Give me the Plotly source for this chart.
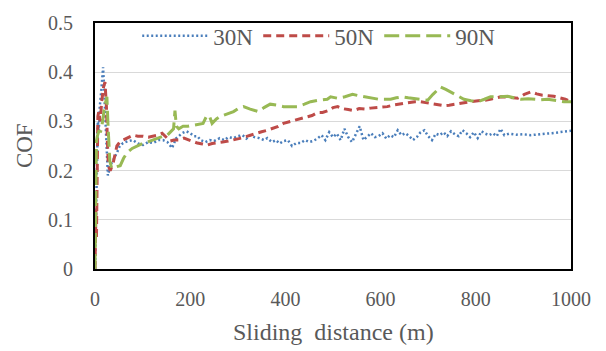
import plotly.graph_objects as go

# ---- data ----
x_30 = [0, 2, 4, 6, 8, 10, 13, 15, 17, 19, 21, 23, 25, 27, 32, 38, 46, 52, 59, 70, 80, 90, 101, 112, 122, 133, 143, 152, 162, 170, 183, 192, 200, 208, 215, 222, 232, 241, 250, 262, 272, 280, 291, 300, 310, 318, 326, 335, 345, 355, 362, 372, 380, 388, 396, 405, 414, 423, 432, 441, 450, 458, 467, 476, 484, 492, 500, 508, 516, 524, 532, 540, 548, 556, 564, 572, 580, 588, 596, 604, 612, 620, 628, 636, 644, 652, 660, 668, 676, 684, 692, 700, 708, 716, 724, 732, 740, 748, 756, 764, 772, 780, 788, 796, 804, 812, 820, 828, 836, 844, 852, 860, 870, 885, 900, 915, 930, 945, 960, 975, 990, 1000]
y_30 = [0.0, 0.10, 0.22, 0.30, 0.28, 0.33, 0.36, 0.39, 0.41, 0.37, 0.32, 0.27, 0.22, 0.19, 0.21, 0.22, 0.236, 0.25, 0.256, 0.26, 0.262, 0.255, 0.252, 0.258, 0.256, 0.262, 0.262, 0.258, 0.246, 0.265, 0.276, 0.28, 0.276, 0.27, 0.27, 0.262, 0.258, 0.262, 0.26, 0.266, 0.262, 0.268, 0.266, 0.27, 0.272, 0.265, 0.272, 0.268, 0.266, 0.262, 0.266, 0.258, 0.262, 0.255, 0.26, 0.262, 0.25, 0.256, 0.256, 0.262, 0.258, 0.26, 0.265, 0.272, 0.262, 0.278, 0.268, 0.275, 0.262, 0.285, 0.268, 0.258, 0.275, 0.29, 0.262, 0.27, 0.276, 0.268, 0.27, 0.276, 0.265, 0.272, 0.268, 0.282, 0.272, 0.276, 0.27, 0.262, 0.268, 0.278, 0.282, 0.27, 0.262, 0.275, 0.272, 0.278, 0.27, 0.28, 0.274, 0.27, 0.282, 0.276, 0.268, 0.278, 0.266, 0.28, 0.275, 0.272, 0.276, 0.27, 0.285, 0.272, 0.275, 0.273, 0.274, 0.272, 0.274, 0.275, 0.276, 0.278, 0.28, 0.281]

x_50 = [0, 2, 3, 4, 6, 8, 11, 14, 18, 21, 24, 26, 28, 32, 38, 46, 52, 59, 70, 80, 90, 101, 112, 122, 131, 141, 150, 158, 166, 175, 187, 198, 206, 215, 226, 236, 246, 257, 268, 280, 291, 302, 314, 326, 338, 350, 362, 374, 385, 396, 408, 420, 432, 444, 456, 467, 478, 490, 500, 510, 520, 532, 543, 555, 567, 579, 590, 602, 614, 626, 637, 648, 660, 672, 684, 696, 708, 720, 732, 744, 756, 770, 789, 805, 820, 835, 853, 870, 888, 902, 916, 928, 940, 952, 964, 976, 988, 1000]
y_50 = [0.0, 0.12, 0.06, 0.22, 0.31, 0.32, 0.30, 0.34, 0.37, 0.38, 0.33, 0.26, 0.21, 0.20, 0.215, 0.25, 0.258, 0.262, 0.268, 0.272, 0.27, 0.27, 0.268, 0.27, 0.272, 0.276, 0.268, 0.26, 0.262, 0.262, 0.266, 0.262, 0.258, 0.256, 0.254, 0.252, 0.255, 0.256, 0.258, 0.26, 0.262, 0.265, 0.268, 0.272, 0.276, 0.279, 0.282, 0.286, 0.29, 0.296, 0.299, 0.302, 0.306, 0.309, 0.312, 0.318, 0.318, 0.322, 0.328, 0.33, 0.326, 0.324, 0.322, 0.326, 0.325, 0.327, 0.328, 0.33, 0.33, 0.333, 0.335, 0.337, 0.338, 0.34, 0.34, 0.338, 0.336, 0.335, 0.332, 0.333, 0.335, 0.338, 0.34, 0.342, 0.343, 0.346, 0.35, 0.349, 0.347, 0.355, 0.36, 0.356, 0.353, 0.352, 0.351, 0.348, 0.345, 0.34]

x_90 = [0, 1, 2, 3, 5, 8, 12, 16, 20, 25, 27, 29, 31, 35, 45, 53, 60, 67, 78, 88, 100, 110, 120, 131, 143, 152, 160, 165, 168, 171, 176, 185, 195, 206, 216, 227, 234, 240, 246, 255, 263, 277, 291, 302, 312, 326, 343, 355, 368, 382, 396, 410, 425, 440, 453, 470, 488, 495, 510, 525, 541, 555, 568, 582, 596, 610, 621, 633, 646, 658, 669, 684, 699, 710, 716, 726, 737, 747, 761, 775, 790, 804, 818, 831, 849, 867, 880, 895, 910, 922, 937, 951, 968, 985, 1000]
y_90 = [0.0, 0.12, 0.2, 0.26, 0.27, 0.28, 0.28, 0.30, 0.33, 0.35, 0.30, 0.26, 0.22, 0.205, 0.208, 0.21, 0.225, 0.236, 0.245, 0.25, 0.255, 0.258, 0.262, 0.266, 0.27, 0.272, 0.28, 0.285, 0.322, 0.29, 0.285, 0.29, 0.29, 0.292, 0.294, 0.296, 0.31, 0.312, 0.296, 0.305, 0.31, 0.315, 0.32, 0.327, 0.33, 0.325, 0.32, 0.328, 0.335, 0.333, 0.33, 0.33, 0.33, 0.335, 0.34, 0.343, 0.345, 0.35, 0.347, 0.35, 0.355, 0.352, 0.35, 0.347, 0.345, 0.345, 0.345, 0.348, 0.35, 0.348, 0.347, 0.345, 0.343, 0.355, 0.36, 0.37, 0.365, 0.36, 0.352, 0.345, 0.342, 0.34, 0.345, 0.35, 0.35, 0.351, 0.348, 0.345, 0.346, 0.345, 0.344, 0.345, 0.342, 0.34, 0.34]

names = ["30N", "50N", "90N"]
x_ticks = [0, 200, 400, 600, 800, 1000]
y_ticks = [0, 0.1, 0.2, 0.3, 0.4, 0.5]
y_ticktext = ["0", "0.1", "0.2", "0.3", "0.4", "0.5"]
x_title = "Sliding  distance (m)"
y_title = "COF"

FONT = "Liberation Serif"
GRAY = "#595959"

fig = go.Figure()
fig.add_trace(go.Scatter(x=x_30, y=y_30, name=names[0], mode="lines",
                         line=dict(color="#4a7ebb", width=2.5, dash="2px,2.5px")))
fig.add_trace(go.Scatter(x=x_50, y=y_50, name=names[1], mode="lines",
                         line=dict(color="#be4b48", width=3, dash="8px,5px")))
fig.add_trace(go.Scatter(x=x_90, y=y_90, name=names[2], mode="lines",
                         line=dict(color="#98b954", width=3, dash="15px,6px")))

fig.update_layout(
    width=606, height=351,
    margin=dict(l=95, r=35, t=17, b=82),
    paper_bgcolor="white", plot_bgcolor="white",
    font=dict(family=FONT, color=GRAY, size=20),
    showlegend=True,
    legend=dict(orientation="h", x=0.47, xanchor="center", y=1.035, yanchor="top",
                bgcolor="rgba(0,0,0,0)", font=dict(family=FONT, size=23, color=GRAY),
                itemwidth=66, tracegroupgap=0),
    xaxis=dict(range=[0, 1000], tickvals=x_ticks, showgrid=False, zeroline=False,
               showline=True, linecolor="black", linewidth=2, mirror=True,
               ticks="", ticklabelstandoff=11,
               tickfont=dict(family=FONT, size=20, color=GRAY)),
    yaxis=dict(range=[0, 0.5], tickvals=y_ticks, ticktext=y_ticktext,
               showgrid=True, gridcolor="#d9d9d9", gridwidth=1, zeroline=False,
               showline=True, linecolor="black", linewidth=2, mirror=True,
               ticks="", ticklabelstandoff=16,
               tickfont=dict(family=FONT, size=20, color=GRAY)),
    annotations=[
        dict(text=x_title, xref="paper", yref="paper", x=0.50, y=-0.255,
             xanchor="center", yanchor="middle", showarrow=False,
             font=dict(family=FONT, size=24, color=GRAY)),
        dict(text=y_title, xref="paper", yref="paper", x=-0.149, y=0.5,
             xanchor="center", yanchor="middle", textangle=-90, showarrow=False,
             font=dict(family=FONT, size=23, color=GRAY)),
    ],
)

fig.write_html("out.html")
